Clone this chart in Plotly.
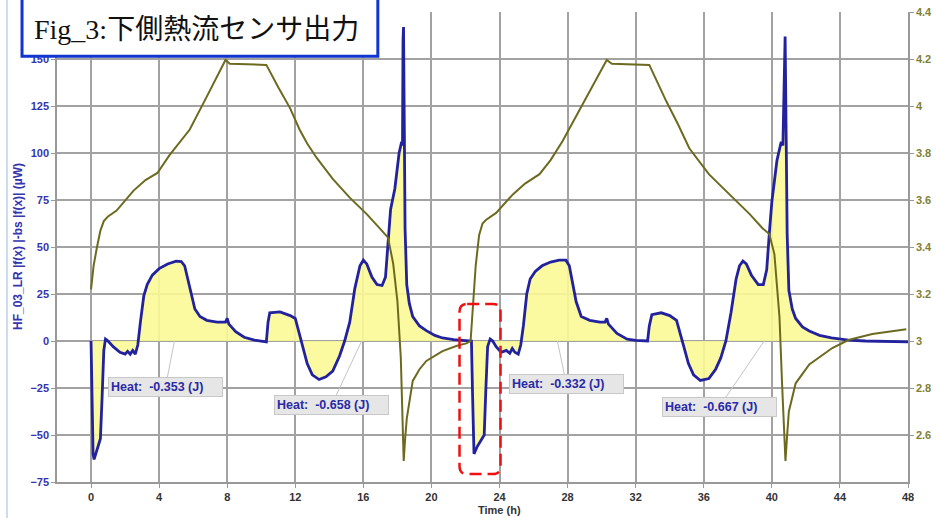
import plotly.graph_objects as go

# ---- heat flow (left axis, µW) ----
time_hf = [0.0, 0.05, 0.12, 0.18, 0.35, 0.55, 0.65, 0.75, 0.85, 1.0, 1.3, 1.7, 2.0, 2.15, 2.3, 2.45, 2.6, 2.75,
           2.9, 3.1, 3.3, 3.6, 4.0, 4.5, 5.0, 5.3, 5.5, 5.7, 5.9, 6.1, 6.4, 6.8, 7.4, 7.9, 8.0, 8.1, 8.5, 9.0,
           9.6, 10.3, 10.4, 10.5, 11.1, 11.7, 12.0, 12.2, 12.4, 12.7, 13.0, 13.4, 13.8, 14.2, 14.6, 14.9,
           15.2, 15.5, 15.8, 16.0, 16.2, 16.5, 16.8, 17.1, 17.3, 17.45, 17.6, 17.85, 18.1, 18.25, 18.3,
           18.33, 18.36, 18.4, 18.45, 18.55, 18.7, 18.9, 19.3, 19.7, 20.2, 20.65, 21.3, 22.0, 22.35, 22.42,
           22.5, 22.7, 22.9, 23.1, 23.2, 23.3, 23.45, 23.6, 23.8, 24.1, 24.4, 24.6, 24.75, 24.9, 25.1, 25.25,
           25.4, 25.6, 25.8, 26.1, 26.5, 27.0, 27.5, 27.9, 28.1, 28.3, 28.5, 28.8, 29.3, 29.9, 30.2, 30.3,
           30.4, 30.9, 31.5, 32.0, 32.7, 32.8, 32.95, 33.5, 34.0, 34.4, 34.6, 34.8, 35.1, 35.4, 35.8, 36.3,
           36.7, 37.0, 37.3, 37.6, 37.9, 38.1, 38.3, 38.5, 38.8, 39.2, 39.5, 39.7, 39.85, 40.0, 40.3, 40.55,
           40.65, 40.72, 40.78, 40.84, 40.9, 41.0, 41.2, 41.4, 41.8, 42.2, 42.8, 43.5, 44.5, 45.5, 46.5, 48.0]
heat_flow_uW = [0, -20, -60, -63, -58, -52, -30, -5, 1, 0, -3, -6, -7, -5.5, -7, -5, -7, -2,
                10, 24, 30, 35, 38.5, 41, 42.5, 42.3, 40, 32, 24, 17, 13, 11, 10, 10, 12, 9, 5, 2,
                0.5, -0.5, 10, 15, 15.5, 13.5, 12, 5, -3, -12, -18, -20.5, -19, -16, -8, 0,
                10, 28, 40, 43, 41, 34, 30, 29.5, 34, 50, 70, 81, 100, 106, 104,
                160, 167, 120, 60, 30, 20, 13, 8, 5.5, 3, 1.6, 0.7, 0.2, 0, -30,
                -60, -56, -53, -50, -25, -3, 1, 0, -3, -6, -5, -6.5, -4, -6, -7, -2,
                8, 25, 33, 37, 40, 42, 43, 43, 40, 30, 21, 13, 11, 10, 10, 12,
                9, 4, 1, 0.3, 0, 8, 14, 15, 13.5, 11, 5, -2, -12, -18, -21, -20,
                -15, -9, 0, 15, 33, 40, 42.5, 41, 35, 30, 30, 38, 57, 74, 96, 106,
                104, 140, 162, 110, 57, 27, 17, 12, 7.5, 5.3, 3, 1.6, 0.5, 0, -0.3, -0.5]

# ---- second channel (right axis) ----
time_t = [0.0, 0.15, 0.35, 0.55, 0.75, 1.0, 1.5, 2.0, 2.5, 3.2, 3.9, 4.6, 5.2, 5.8, 6.8, 7.8, 7.9, 8.15,
          10.3, 11.0, 11.7, 12.25, 12.7, 13.25, 14.2, 15.2, 16.2, 16.95, 17.45, 17.75, 18.0, 18.2, 18.3,
          18.37, 18.45, 18.55, 18.9, 19.3, 19.7, 20.65, 21.5, 22.05, 22.3, 22.45, 22.6, 22.8, 23.0, 23.2,
          23.8, 24.8, 25.5, 26.35, 27.0, 27.7, 29.0, 30.3, 30.6, 32.8, 33.8, 34.5, 35.15, 35.7, 36.3,
          37.0, 37.7, 38.7, 39.45, 39.85, 40.15, 40.45, 40.6, 40.8, 40.9, 41.0, 41.4, 42.2, 43.55, 44.5,
          45.9, 47.9]
temp_val = [3.22, 3.32, 3.40, 3.47, 3.51, 3.53, 3.555, 3.60, 3.64, 3.685, 3.715, 3.79, 3.845, 3.90, 4.04,
            4.18, 4.196, 4.18, 4.175, 4.08, 3.99, 3.90, 3.84, 3.78, 3.69, 3.61, 3.54, 3.48, 3.44, 3.33,
            3.17, 2.93, 2.70, 2.49, 2.58, 2.67, 2.83, 2.88, 2.915, 2.957, 2.98, 2.99, 3.0, 3.17, 3.32,
            3.45, 3.50, 3.515, 3.545, 3.625, 3.67, 3.71, 3.77, 3.85, 4.02, 4.196, 4.18, 4.175, 4.02,
            3.92, 3.82, 3.765, 3.71, 3.66, 3.61, 3.54, 3.48, 3.455, 3.37, 3.10, 2.82, 2.49, 2.60, 2.70,
            2.82, 2.90, 2.97, 3.004, 3.03, 3.05]

x_ticks = list(range(0, 49, 4))
left_ticks = [-75, -50, -25, 0, 25, 50, 75, 100, 125, 150]
right_ticks = [2.6, 2.8, 3.0, 3.2, 3.4, 3.6, 3.8, 4.0, 4.2, 4.4]
right_ticklabels = ["2.6", "2.8", "3", "3.2", "3.4", "3.6", "3.8", "4", "4.2", "4.4"]

# heat annotations: (target time, text, ax, ay)
heat_t = [4.9, 15.9, 27.4, 39.55]
heat_text = ["Heat:  -0.353 (J)", "Heat:  -0.658 (J)", "Heat:  -0.332 (J)", "Heat:  -0.667 (J)"]
heat_ax = [-9, -30, 9, -45]
heat_ay = [46, 64, 43, 66]

BLUE = "#22229e"
OLIVE = "#6d6a20"
GRID = "#a2a2a2"
AXIS_FONT = "Liberation Sans, Arial, sans-serif"

fig = go.Figure()
fig.add_trace(go.Scatter(x=time_hf, y=heat_flow_uW, mode="lines", fill="tozeroy",
                         fillcolor="rgba(252,250,150,0.9)",
                         line=dict(color=BLUE, width=2.8), yaxis="y", showlegend=False))
fig.add_trace(go.Scatter(x=time_t, y=temp_val, mode="lines",
                         line=dict(color=OLIVE, width=2), yaxis="y2", showlegend=False))

fig.update_layout(
    width=937, height=518,
    margin=dict(l=57, r=29, t=12, b=36, autoexpand=False),
    paper_bgcolor="white", plot_bgcolor="white",
    xaxis=dict(range=[-2, 48], tickvals=x_ticks, showgrid=True, gridcolor=GRID, gridwidth=1.5,
               zeroline=False, showline=True, linecolor="#999999", linewidth=1.5,
               ticks="outside", ticklen=4, tickcolor="#999999", automargin=False,
               tickfont=dict(family=AXIS_FONT, size=11, color="#333333", weight="bold")),
    yaxis=dict(range=[-75, 175], tickvals=left_ticks, showgrid=True, gridcolor=GRID, gridwidth=1.5,
               zeroline=False, showline=True, linecolor="#999999", linewidth=1.5,
               ticks="outside", ticklen=4, tickcolor="#999999", automargin=False,
               tickfont=dict(family=AXIS_FONT, size=11, color="#3535b0", weight="bold")),
    yaxis2=dict(range=[2.4, 4.4], overlaying="y", side="right", tickvals=right_ticks,
                ticktext=right_ticklabels, showgrid=False, zeroline=False, showline=True,
                linecolor="#999999", linewidth=1.5, ticks="outside", ticklen=4, tickcolor="#999999",
                automargin=False,
                tickfont=dict(family=AXIS_FONT, size=11, color="#808035", weight="bold")),
)

annotations = [
    dict(text="Time (h)", xref="x", yref="paper", x=24, y=-0.06, showarrow=False,
         xanchor="center", yanchor="middle",
         font=dict(family=AXIS_FONT, size=11, color="#333333", weight="bold")),
    dict(text="HF_03_LR |f(x) |-bs |f(x)| (µW)", xref="paper", yref="paper", x=-0.0458, y=0.5,
         textangle=-90, showarrow=False, xanchor="center", yanchor="middle",
         font=dict(family=AXIS_FONT, size=12, color="#3535b0", weight="bold")),
    dict(text="Fig_3:下側熱流センサ出力", xref="paper", yref="paper", x=-0.0294, y=0.962,
         showarrow=False, xanchor="left", yanchor="middle",
         font=dict(family="Liberation Serif, Noto Sans CJK JP, serif", size=28, color="#111111")),
]
for t, txt, ax, ay in zip(heat_t, heat_text, heat_ax, heat_ay):
    annotations.append(dict(
        text=txt, x=t, y=0, xref="x", yref="y", ax=ax, ay=ay, showarrow=True,
        arrowhead=0, arrowwidth=1, arrowcolor="#c4c4c4", standoff=0,
        bgcolor="#e6e6e6", bordercolor="#c8c8c8", borderwidth=1, borderpad=2,
        width=109, height=14, align="left",
        font=dict(family=AXIS_FONT, size=12.5, color="#2a2aa8", weight="bold")))
fig.update_layout(annotations=annotations)

# red dashed rounded rectangle
x0, x1, y0, y1 = 21.65, 24.06, -70.8, 19.7
rx, ry = 0.45, 4.2
path = (f"M {x0+rx},{y1} L {x1-rx},{y1} Q {x1},{y1} {x1},{y1-ry} L {x1},{y0+ry} "
        f"Q {x1},{y0} {x1-rx},{y0} L {x0+rx},{y0} Q {x0},{y0} {x0},{y0+ry} "
        f"L {x0},{y1-ry} Q {x0},{y1} {x0+rx},{y1} Z")
shapes = [
    dict(type="path", path=path, xref="x", yref="y", line=dict(color="#ee1111", width=2.5, dash="12px,6px")),
    dict(type="rect", xref="paper", yref="paper", x0=-0.0411, x1=0.377, y0=0.906, y1=1.04,
         line=dict(color="#1035d0", width=3), fillcolor="white", layer="above"),
    dict(type="line", xref="paper", yref="paper", x0=-0.0588, x1=-0.0588, y0=-0.08, y1=1.03,
         line=dict(color="#bcd0ec", width=1.5)),
]
fig.update_layout(shapes=shapes)

fig.write_html("out.html", config={"displayModeBar": False},
               post_script="document.body.style.margin='0';document.body.style.overflow='hidden';")
